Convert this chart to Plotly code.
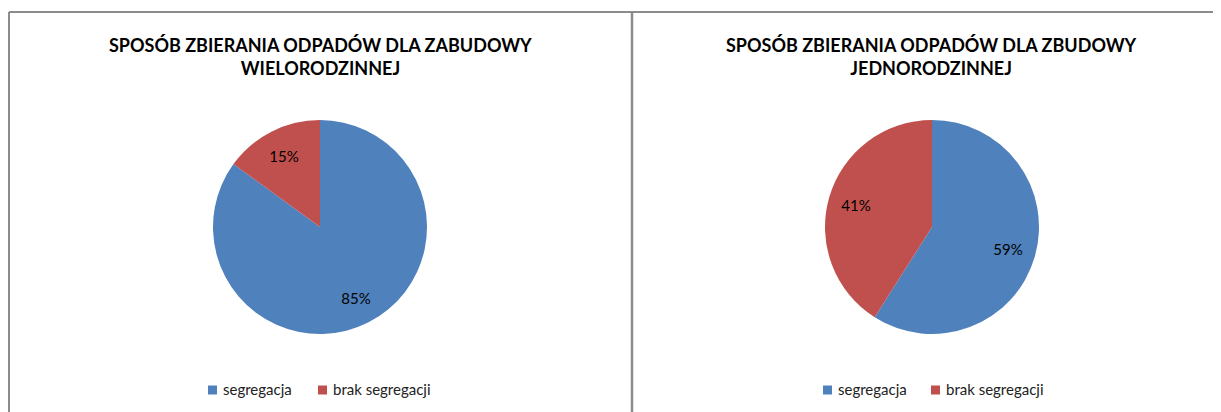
import plotly.graph_objects as go

# page body has an 8px margin; figure is sized/positioned to compensate
OFF = 8
W, H = 1221 - OFF, 412 - OFF

categories = ["segregacja", "brak segregacji"]
values_multi = [85, 15]
values_single = [59, 41]
title_multi = "SPOSÓB ZBIERANIA ODPADÓW DLA ZABUDOWY<br>WIELORODZINNEJ"
title_single = "SPOSÓB ZBIERANIA ODPADÓW DLA ZBUDOWY<br>JEDNORODZINNEJ"
colors = ["#4F81BD", "#C0504D"]

def px(x):
    return (x - OFF) / W

def py(y):
    return 1 - (y - OFF) / H

R = 107
CY = 227

def dom(cx):
    return dict(x=[px(cx - R), px(cx + R)], y=[py(CY + R), py(CY - R)])

fig = go.Figure()
for vals, cx in [(values_multi, 320), (values_single, 932)]:
    # filled pie
    fig.add_trace(go.Pie(
        labels=categories, values=vals, sort=False, direction="clockwise",
        rotation=0, domain=dom(cx), marker=dict(colors=colors, line=dict(width=0)),
        textinfo="none", showlegend=False, hoverinfo="label+percent",
    ))
    # transparent ring carrying the percentage labels at ~3/4 of the radius
    fig.add_trace(go.Pie(
        labels=categories, values=vals, sort=False, direction="clockwise",
        rotation=0, domain=dom(cx), hole=0.48,
        marker=dict(colors=["rgba(0,0,0,0)"] * 2, line=dict(width=0)),
        texttemplate="%{percent:.0%}", textposition="inside",
        insidetextorientation="horizontal",
        textfont=dict(family="Lato", size=15, color="#000000"),
        showlegend=False, hoverinfo="skip",
    ))

fig.update_layout(
    width=W, height=H, margin=dict(l=0, r=0, t=0, b=0),
    paper_bgcolor="white", plot_bgcolor="white",
)

for txt, cx in [(title_multi, 320), (title_single, 932)]:
    fig.add_annotation(text="<b>" + txt + "</b>", x=px(cx), y=py(56),
                       xref="paper", yref="paper", xanchor="center", yanchor="middle",
                       showarrow=False, align="center",
                       font=dict(family="Lato", size=18, color="#000"))

# legends
legend_pos = [(208, 318), (823, 931)]
for starts in legend_pos:
    for cat, col, x0 in zip(categories, colors, starts):
        fig.add_shape(type="rect", xref="paper", yref="paper",
                      x0=px(x0), x1=px(x0 + 9), y0=py(394.5), y1=py(385.5),
                      fillcolor=col, line=dict(width=0))
        fig.add_annotation(text=cat, x=px(x0 + 13), y=py(389), xref="paper", yref="paper",
                           xanchor="left", yanchor="middle", showarrow=False,
                           font=dict(family="Lato", size=15, color="#222"))

line_col = "#8C8C8C"
top = py(12)
fig.add_shape(type="line", xref="paper", yref="paper", x0=px(9), x1=1, y0=top, y1=top,
              line=dict(color=line_col, width=2))
fig.add_shape(type="line", xref="paper", yref="paper", x0=px(9), x1=px(9), y0=top, y1=0,
              line=dict(color=line_col, width=2))
fig.add_shape(type="line", xref="paper", yref="paper", x0=px(632), x1=px(632), y0=top, y1=0,
              line=dict(color=line_col, width=2.5))

fig.write_html("out.html")
